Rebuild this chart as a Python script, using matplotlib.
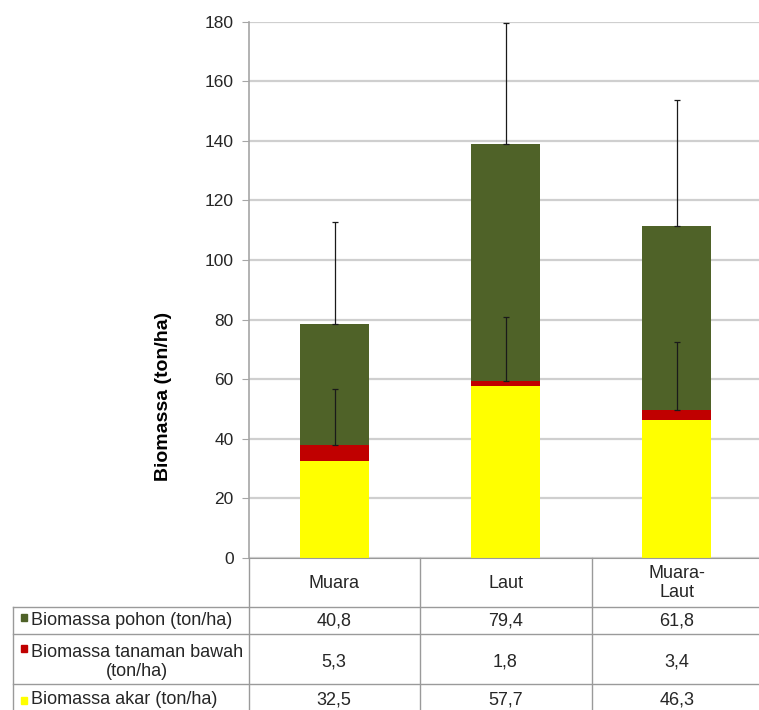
import matplotlib
matplotlib.use("Agg")
import matplotlib.pyplot as plt
from matplotlib.lines import Line2D
from matplotlib.patches import Rectangle
import numpy as np

plt.rcParams['font.family'] = ['Liberation Sans', 'DejaVu Sans']

# Data
categories = ["Muara", "Laut", "Muara-\nLaut"]
pohon = [40.8, 79.4, 61.8]          # Biomassa pohon (ton/ha)
bawah = [5.3, 1.8, 3.4]             # Biomassa tanaman bawah (ton/ha)
akar = [32.5, 57.7, 46.3]           # Biomassa akar (ton/ha)
err_pohon = [34.3, 40.5, 42.2]      # upper error on total biomass
err_bawah = [18.8, 21.3, 22.9]      # upper error on root + understorey
series_labels = ["Biomassa pohon (ton/ha)",
                 "Biomassa tanaman bawah\n(ton/ha)",
                 "Biomassa akar (ton/ha)"]
yticks = [0, 20, 40, 60, 80, 100, 120, 140, 160, 180]

c_pohon = "#4F6228"
c_bawah = "#C00000"
c_akar = "#FFFF00"
text_c = "#262626"
line_c = "#9a9a9a"

W, H = 759, 710
fig = plt.figure(figsize=(W / 100, H / 100), dpi=100)

# plot area in pixel coordinates
ax_l, ax_r, ax_top, ax_bot = 249, 762, 21.7, 558
ax = fig.add_axes([ax_l / W, 1 - ax_bot / H, (ax_r - ax_l) / W, (ax_bot - ax_top) / H])

x = np.arange(len(categories))
bw = 0.4
akar_a = np.array(akar)
bawah_a = np.array(bawah)
pohon_a = np.array(pohon)

ax.bar(x, akar_a, bw, color=c_akar, zorder=2)
ax.bar(x, bawah_a, bw, bottom=akar_a, color=c_bawah, zorder=2)
ax.bar(x, pohon_a, bw, bottom=akar_a + bawah_a, color=c_pohon, zorder=2)

mid = akar_a + bawah_a
top = mid + pohon_a
ax.errorbar(x, mid, yerr=[np.zeros(3), err_bawah], fmt='none', ecolor='#1a1a1a',
            elinewidth=0.9, capsize=2.5, capthick=0.9, zorder=3)
ax.errorbar(x, top, yerr=[np.zeros(3), err_pohon], fmt='none', ecolor='#1a1a1a',
            elinewidth=0.9, capsize=2.5, capthick=0.9, zorder=3)

ax.set_xlim(-0.5, 2.5)
ax.set_ylim(0, 180)
ax.set_yticks(yticks)
ax.set_yticklabels([str(t) for t in yticks], fontsize=12.5, color=text_c)
ax.set_xticks([])
ax.grid(axis='y', color='#cfcfcf', linewidth=1.6, zorder=0)
ax.set_axisbelow(True)
for s in ['top', 'right']:
    ax.spines[s].set_visible(False)
ax.spines['left'].set_color('#a6a6a6')
ax.spines['bottom'].set_color(line_c)
ax.spines['left'].set_linewidth(1.2)
ax.tick_params(axis='y', length=5, color='#a6a6a6', pad=6)


def px(xp, yp):
    return xp / W, 1 - yp / H


# y-axis title, centred on the plot area together with the table
fig.text(*px(164, 396), "Biomassa (ton/ha)", rotation=90, ha='center', va='center',
         fontsize=14, fontweight='bold', color='black')


def hline(y, x0, x1):
    (a, b), (c, d) = px(x0, y), px(x1, y)
    fig.add_artist(Line2D([a, c], [b, d], color=line_c, lw=1.0))


def vline(xp, y0, y1):
    (a, b), (c, d) = px(xp, y0), px(xp, y1)
    fig.add_artist(Line2D([a, c], [b, d], color=line_c, lw=1.0))


# data table under the plot
col_edges = [249, 419.5, 591.5, 762]
row_edges = [558, 607, 634, 684, 712]
left_edge = 12.7

for xe in col_edges:
    vline(xe, row_edges[0], H + 5)
vline(left_edge, row_edges[1], H + 5)
for ye in row_edges[1:4]:
    hline(ye, left_edge, W + 5)

centers = [(col_edges[i] + col_edges[i + 1]) / 2 for i in range(3)]
for cx, cat in zip(centers, categories):
    fig.text(*px(cx, 583), cat, ha='center', va='center', fontsize=13,
             color=text_c, linespacing=1.2)

rows = [pohon, bawah, akar]
colors = [c_pohon, c_bawah, c_akar]
row_y = [620.5, 662, 700]
key_y = [617.5, 648, 700]
for vals, lab, col, yc, ky in zip(rows, series_labels, colors, row_y, key_y):
    for cx, v in zip(centers, vals):
        fig.text(*px(cx, yc), f"{v:.1f}".replace('.', ','), ha='center', va='center',
                 fontsize=13, color=text_c)
    fig.text(*px(31, yc), lab, ha='left', va='center', multialignment='center',
             fontsize=13, color=text_c, linespacing=1.2)
    # legend key
    kx0, ky0 = px(20.5, ky + 3.5)
    fig.add_artist(Rectangle((kx0, ky0), 6.5 / W, 7 / H, color=col,
                             transform=fig.transFigure))

fig.savefig("out.png", dpi=100)
